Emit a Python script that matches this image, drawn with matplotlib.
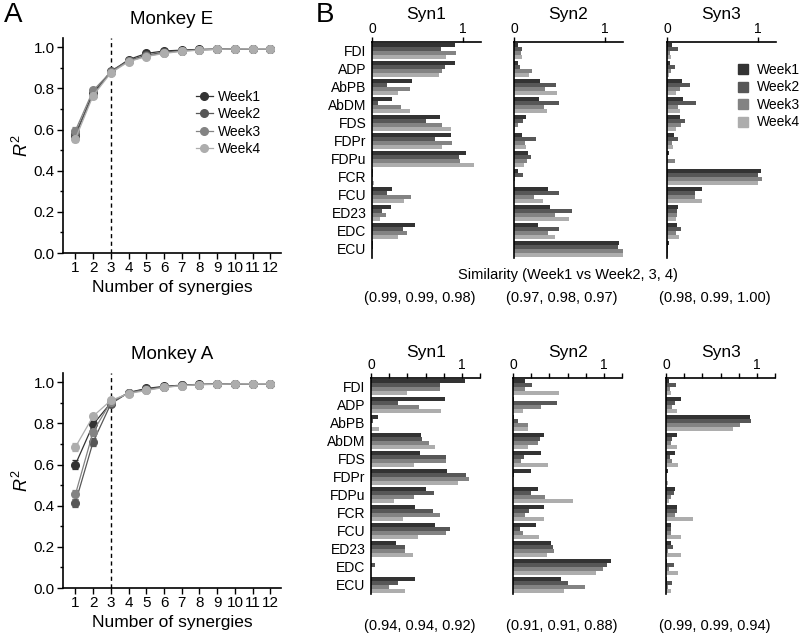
import matplotlib
matplotlib.use('Agg')
import matplotlib.pyplot as plt
from matplotlib.lines import Line2D
import numpy as np

plt.rcParams['font.family'] = ['Liberation Sans', 'DejaVu Sans']
plt.rcParams['mathtext.fontset'] = 'custom'
plt.rcParams['mathtext.it'] = 'Liberation Sans:italic'
plt.rcParams['mathtext.rm'] = 'Liberation Sans'

# ---- data ----
n_syn = list(range(1, 13))
weeks = ['Week1', 'Week2', 'Week3', 'Week4']
week_colors = ['#333333', '#575757', '#838383', '#adadad']

# Monkey E, R^2 vs number of synergies
rE_w1 = [0.57, 0.78, 0.880, 0.940, 0.970, 0.982, 0.986, 0.990, 0.991, 0.992, 0.993, 0.993]
rE_w2 = [0.58, 0.77, 0.885, 0.935, 0.962, 0.976, 0.983, 0.988, 0.990, 0.992, 0.993, 0.993]
rE_w3 = [0.595, 0.79, 0.880, 0.932, 0.957, 0.972, 0.982, 0.987, 0.990, 0.992, 0.993, 0.993]
rE_w4 = [0.555, 0.765, 0.875, 0.930, 0.955, 0.970, 0.980, 0.986, 0.990, 0.992, 0.993, 0.993]
eE_w1 = [0.015, 0.012, 0.008, 0.005, 0.004, 0.003, 0.002, 0.002, 0.001, 0.001, 0.001, 0.001]
eE_w2 = [0.015, 0.012, 0.008, 0.005, 0.004, 0.003, 0.002, 0.002, 0.001, 0.001, 0.001, 0.001]
eE_w3 = [0.015, 0.012, 0.008, 0.005, 0.004, 0.003, 0.002, 0.002, 0.001, 0.001, 0.001, 0.001]
eE_w4 = [0.015, 0.012, 0.008, 0.005, 0.004, 0.003, 0.002, 0.002, 0.001, 0.001, 0.001, 0.001]

# Monkey A
rA_w1 = [0.600, 0.795, 0.900, 0.950, 0.970, 0.980, 0.986, 0.990, 0.991, 0.992, 0.993, 0.993]
rA_w2 = [0.415, 0.710, 0.895, 0.950, 0.966, 0.978, 0.985, 0.989, 0.991, 0.992, 0.993, 0.993]
rA_w3 = [0.455, 0.760, 0.905, 0.948, 0.963, 0.976, 0.984, 0.989, 0.991, 0.992, 0.993, 0.993]
rA_w4 = [0.685, 0.835, 0.912, 0.945, 0.960, 0.975, 0.983, 0.988, 0.990, 0.992, 0.993, 0.993]
eA_w1 = [0.022, 0.015, 0.008, 0.005, 0.004, 0.003, 0.002, 0.002, 0.001, 0.001, 0.001, 0.001]
eA_w2 = [0.020, 0.020, 0.008, 0.005, 0.004, 0.003, 0.002, 0.002, 0.001, 0.001, 0.001, 0.001]
eA_w3 = [0.022, 0.020, 0.008, 0.005, 0.004, 0.003, 0.002, 0.002, 0.001, 0.001, 0.001, 0.001]
eA_w4 = [0.020, 0.012, 0.008, 0.005, 0.004, 0.003, 0.002, 0.002, 0.001, 0.001, 0.001, 0.001]

muscles_E = ['FDI', 'ADP', 'AbPB', 'AbDM', 'FDS', 'FDPr', 'FDPu', 'FCR', 'FCU', 'ED23', 'EDC', 'ECU']
muscles_A = ['FDI', 'ADP', 'AbPB', 'AbDM', 'FDS', 'FDPr', 'FDPu', 'FCR', 'FCU', 'ED23', 'EDC', 'ECU']

# synergy weights, rows = muscles, cols = Week1..Week4
E_syn1 = [[0.91, 0.76, 0.92, 0.81],
          [0.91, 0.80, 0.77, 0.74],
          [0.44, 0.16, 0.42, 0.29],
          [0.22, 0.07, 0.32, 0.42],
          [0.75, 0.59, 0.77, 0.87],
          [0.875, 0.69, 0.88, 0.77],
          [1.03, 0.96, 0.97, 1.12],
          [0.015, 0.01, 0.005, 0.025],
          [0.22, 0.16, 0.43, 0.35],
          [0.21, 0.11, 0.15, 0.09],
          [0.47, 0.34, 0.39, 0.29],
          [0.015, 0.01, 0.005, 0.005]]
E_syn2 = [[0.04, 0.09, 0.08, 0.09],
          [0.04, 0.065, 0.20, 0.17],
          [0.29, 0.46, 0.34, 0.47],
          [0.27, 0.49, 0.33, 0.36],
          [0.135, 0.10, 0.045, 0.015],
          [0.09, 0.245, 0.125, 0.13],
          [0.15, 0.19, 0.14, 0.11],
          [0.04, 0.095, 0.01, 0.005],
          [0.37, 0.49, 0.22, 0.32],
          [0.40, 0.64, 0.45, 0.61],
          [0.26, 0.49, 0.37, 0.45],
          [1.16, 1.15, 1.22, 1.20]]
E_syn3 = [[0.05, 0.12, 0.03, 0.04],
          [0.035, 0.09, 0.04, 0.02],
          [0.17, 0.25, 0.14, 0.10],
          [0.18, 0.32, 0.12, 0.14],
          [0.145, 0.20, 0.15, 0.095],
          [0.075, 0.12, 0.06, 0.065],
          [0.025, 0.0, 0.09, 0.0],
          [1.04, 1.00, 1.05, 1.00],
          [0.38, 0.31, 0.31, 0.39],
          [0.12, 0.11, 0.11, 0.10],
          [0.115, 0.15, 0.095, 0.13],
          [0.02, 0.015, 0.01, 0.01]]
A_syn1 = [[1.04, 0.76, 0.76, 0.40],
          [0.82, 0.30, 0.53, 0.77],
          [0.076, 0.02, 0.0, 0.087],
          [0.545, 0.56, 0.64, 0.71],
          [0.54, 0.83, 0.83, 0.47],
          [0.84, 1.05, 1.08, 0.96],
          [0.61, 0.69, 0.47, 0.25],
          [0.48, 0.68, 0.76, 0.35],
          [0.71, 0.87, 0.83, 0.52],
          [0.27, 0.37, 0.37, 0.46],
          [0.0, 0.047, 0.005, 0.0],
          [0.48, 0.30, 0.20, 0.37]]
A_syn2 = [[0.13, 0.205, 0.13, 0.51],
          [0.01, 0.48, 0.31, 0.11],
          [0.01, 0.05, 0.17, 0.165],
          [0.34, 0.30, 0.27, 0.16],
          [0.31, 0.12, 0.09, 0.38],
          [0.20, 0.01, 0.005, 0.005],
          [0.27, 0.20, 0.355, 0.66],
          [0.34, 0.18, 0.135, 0.34],
          [0.25, 0.08, 0.105, 0.29],
          [0.42, 0.44, 0.45, 0.37],
          [1.08, 1.03, 0.99, 0.91],
          [0.53, 0.60, 0.79, 0.56]]
A_syn3 = [[0.03, 0.115, 0.04, 0.06],
          [0.165, 0.095, 0.065, 0.12],
          [0.93, 0.94, 0.82, 0.735],
          [0.12, 0.065, 0.06, 0.12],
          [0.10, 0.045, 0.065, 0.135],
          [0.02, 0.005, 0.0, 0.025],
          [0.10, 0.09, 0.055, 0.03],
          [0.125, 0.125, 0.095, 0.295],
          [0.06, 0.06, 0.06, 0.17],
          [0.05, 0.075, 0.02, 0.16],
          [0.015, 0.09, 0.035, 0.135],
          [0.01, 0.07, 0.025, 0.055]]

syn_names = ['Syn1', 'Syn2', 'Syn3']
sim_E = ['(0.99, 0.99, 0.98)', '(0.97, 0.98, 0.97)', '(0.98, 0.99, 1.00)']
sim_A = ['(0.94, 0.94, 0.92)', '(0.91, 0.91, 0.88)', '(0.99, 0.99, 0.94)']

W, H = 800, 637
fig = plt.figure(figsize=(W / 100, H / 100), dpi=100)


def px_axes(l, t, r, b):
    return fig.add_axes([l / W, 1 - b / H, (r - l) / W, (b - t) / H])


def ftext(x, y, s, **kw):
    fig.text(x / W, 1 - y / H, s, **kw)


def r2_panel(ax, rs, es, title):
    for r, e, c in zip(rs, es, week_colors):
        ax.errorbar(n_syn, r, yerr=e, color=c, marker='o', ms=5.5, lw=0.9,
                    elinewidth=0.9, capsize=2, capthick=0.9)
    ax.axvline(3, color='k', ls=(0, (3, 2.5)), lw=1)
    ax.set_xlim(0.3, 12.6)
    ax.set_ylim(0, 1.045)
    ax.set_xticks(n_syn)
    ax.set_yticks(np.arange(0, 1.01, 0.2))
    ax.set_yticks(np.arange(0.1, 1.0, 0.2), minor=True)
    ax.yaxis.set_major_formatter(matplotlib.ticker.FormatStrFormatter('%.1f'))
    ax.tick_params(labelsize=11, direction='out', length=4, width=1, pad=2)
    ax.tick_params(which='minor', length=2.5, width=1)
    for s in ['top', 'right']:
        ax.spines[s].set_visible(False)
    for s in ['left', 'bottom']:
        ax.spines[s].set_linewidth(1.2)
    ax.set_xlabel('Number of synergies', fontsize=12.5, labelpad=3)
    ax.set_ylabel(r'$R^2$', fontsize=13, labelpad=1)
    ax.set_title(title, fontsize=13.5, pad=10)


axE = px_axes(63, 38, 281, 253)
r2_panel(axE, [rE_w1, rE_w2, rE_w3, rE_w4], [eE_w1, eE_w2, eE_w3, eE_w4], 'Monkey E')
handles = [Line2D([], [], color=c, marker='o', ms=5.5, lw=0.9) for c in week_colors]
axE.legend(handles, weeks, loc='upper left', bbox_to_anchor=(0.585, 0.785), frameon=False,
           fontsize=10, handlelength=1.2, handletextpad=0.4, labelspacing=0.25,
           borderaxespad=0)

axA = px_axes(63, 373, 281, 588)
r2_panel(axA, [rA_w1, rA_w2, rA_w3, rA_w4], [eA_w1, eA_w2, eA_w3, eA_w4], 'Monkey A')


def bar_panel(ax, vals, muscles, show_labels, fine_ticks):
    vals = np.array(vals)
    y = np.arange(len(muscles))
    bh = 0.22
    for k in range(4):
        ax.barh(y - 0.33 + k * bh, vals[:, k], height=bh, color=week_colors[k], linewidth=0)
    ax.set_xlim(0, 1.2)
    ax.set_ylim(11.5, -0.5)
    ax.xaxis.tick_top()
    if fine_ticks:
        ax.set_xticks([0, 0.2, 0.4, 0.6, 0.8, 1.0, 1.2])
        ax.set_xticklabels(['0', '', '', '', '', '1', ''])
    else:
        ax.set_xticks([0, 1])
        ax.set_xticklabels(['0', '1'])
    ax.tick_params(axis='x', labelsize=10, direction='out', length=3.5, width=1, pad=1)
    if show_labels:
        ax.set_yticks(y)
        ax.set_yticklabels(muscles)
        ax.tick_params(axis='y', labelsize=10, length=0, pad=4)
    else:
        ax.set_yticks([])
    for s in ['bottom', 'right']:
        ax.spines[s].set_visible(False)
    for s in ['left', 'top']:
        ax.spines[s].set_linewidth(1.2)


top_l = [372, 514, 667]
for i, d in enumerate([E_syn1, E_syn2, E_syn3]):
    ax = px_axes(top_l[i], 42, top_l[i] + 109, 258)
    bar_panel(ax, d, muscles_E, i == 0, False)
    ftext(top_l[i] + 54, 15, syn_names[i], fontsize=12.5, ha='center', va='center')
    ftext(top_l[i] + 48, 298, sim_E[i], fontsize=10.5, ha='center', va='center')
for i, d in enumerate([A_syn1, A_syn2, A_syn3]):
    ax = px_axes(top_l[i] - 1, 378, top_l[i] + 108, 594)
    bar_panel(ax, d, muscles_A, i == 0, True)
    ftext(top_l[i] + 54, 352, syn_names[i], fontsize=12.5, ha='center', va='center')
    ftext(top_l[i] + 48, 626, sim_A[i], fontsize=10.5, ha='center', va='center')

ftext(568, 275, 'Similarity (Week1 vs Week2, 3, 4)', fontsize=10.5, ha='center', va='center')

bar_handles = [Line2D([], [], color=c, marker='s', ms=7, lw=0) for c in week_colors]
fig.legend(bar_handles, weeks, loc='upper left', bbox_to_anchor=(737 / W, 1 - 63 / H),
           frameon=False, fontsize=10, handlelength=0.8, handletextpad=0.6,
           labelspacing=0.25, borderaxespad=0, borderpad=0)

ftext(4, 15, 'A', fontsize=20, va='center', ha='left')
ftext(316, 15, 'B', fontsize=20, va='center', ha='left')

fig.savefig('out.png', dpi=100)
